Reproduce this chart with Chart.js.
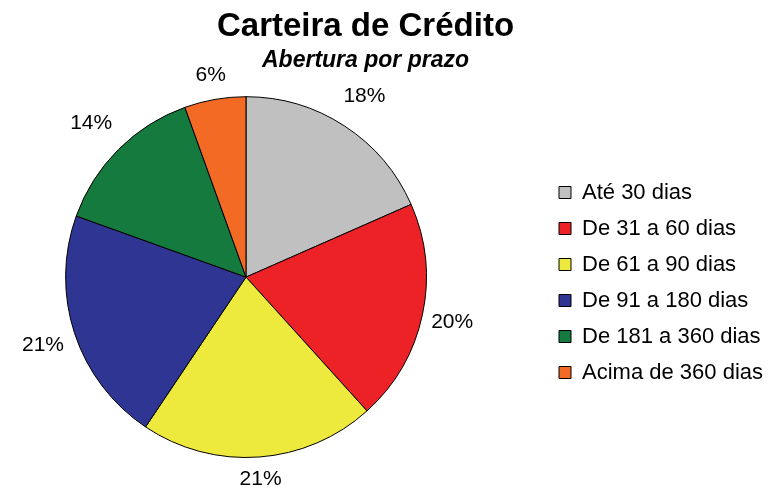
<!DOCTYPE html>
<html>
<head>
<meta charset="utf-8">
<script src="https://cdn.jsdelivr.net/npm/chart.js@4/dist/chart.umd.min.js"></script>
<style>
  html, body { margin: 0; padding: 0; background: #fff; }
  #wrap { width: 769px; height: 488px; }
</style>
</head>
<body>
<div id="wrap"><canvas id="chart"></canvas></div>
<script>
const categorias = ['Até 30 dias', 'De 31 a 60 dias', 'De 61 a 90 dias', 'De 91 a 180 dias', 'De 181 a 360 dias', 'Acima de 360 dias']
// fatias medidas no desenho (%), rótulos como aparecem arredondados
const participacao = [18.4, 19.9, 21.1, 21.1, 14.0, 5.5]
const rotulos = ['18%', '20%', '21%', '21%', '14%', '6%']
const cores = ['#C0C0C0', '#ED2226', '#EEE93D', '#2E3592', '#157A3D', '#F26A23']

// rótulos de % fora das fatias
const rotulosFora = {
    id: 'rotulosFora',
    afterDatasetsDraw(chart) {
        const ctx = chart.ctx
        const meta = chart.getDatasetMeta(0)
        ctx.save()
        ctx.font = '21px "Liberation Sans", Arial, sans-serif'
        ctx.fillStyle = '#000'
        ctx.textAlign = 'center'
        ctx.textBaseline = 'middle'
        meta.data.forEach((arc, i) => {
            const p = arc.getProps(['x', 'y', 'startAngle', 'endAngle', 'outerRadius'], true)
            const meio = (p.startAngle + p.endAngle) / 2
            const dist = p.outerRadius + 19 + 5 * Math.abs(Math.cos(meio)) + 16 * Math.abs(Math.sin(2 * meio))
            ctx.fillText(rotulos[i], p.x + Math.cos(meio) * dist, p.y + Math.sin(meio) * dist + 1)
        })
        ctx.restore()
    }
}

// a pizza fica mais à esquerda, títulos um pouco à esquerda, legenda encostada à direita
const ajusteLayout = {
    id: 'ajusteLayout',
    afterLayout(chart) {
        const a = chart.chartArea
        a.left = 0
        a.right = 492
        a.width = 492
        chart.boxes.forEach(b => {
            if (b.options && typeof b.options.text === 'string' && b.position === 'top') {
                b.right -= 38
            }
        })
        chart.legend.left += 4
        chart.legend.right += 4
    }
}

Chart.defaults.color = '#000'
Chart.defaults.font.family = '"Liberation Sans", Arial, sans-serif'

new Chart(document.getElementById('chart'), {
    type: 'pie',
    data: {
        labels: categorias,
        datasets: [{
            data: participacao,
            backgroundColor: cores,
            borderColor: '#000',
            borderWidth: 1
        }]
    },
    options: {
        responsive: true,
        maintainAspectRatio: false,
        animation: false,
        layout: { padding: { left: 0, right: 0, top: 0, bottom: 30 } },
        plugins: {
            title: {
                display: true,
                text: 'Carteira de Crédito',
                font: { size: 33, weight: 'bold' },
                padding: { top: 7, bottom: 0 }
            },
            subtitle: {
                display: true,
                text: 'Abertura por prazo',
                font: { size: 23, weight: 'bold', style: 'italic' },
                padding: { top: 0, bottom: 22 }
            },
            legend: {
                position: 'right',
                title: {
                    display: true,
                    text: ' ',
                    font: { size: 10 },
                    padding: { top: 0, bottom: 95 }
                },
                labels: {
                    boxWidth: 12,
                    boxHeight: 12,
                    padding: 14,
                    font: { size: 22 }
                }
            },
            tooltip: { enabled: false }
        }
    },
    plugins: [rotulosFora, ajusteLayout]
})
</script>
</body>
</html>
